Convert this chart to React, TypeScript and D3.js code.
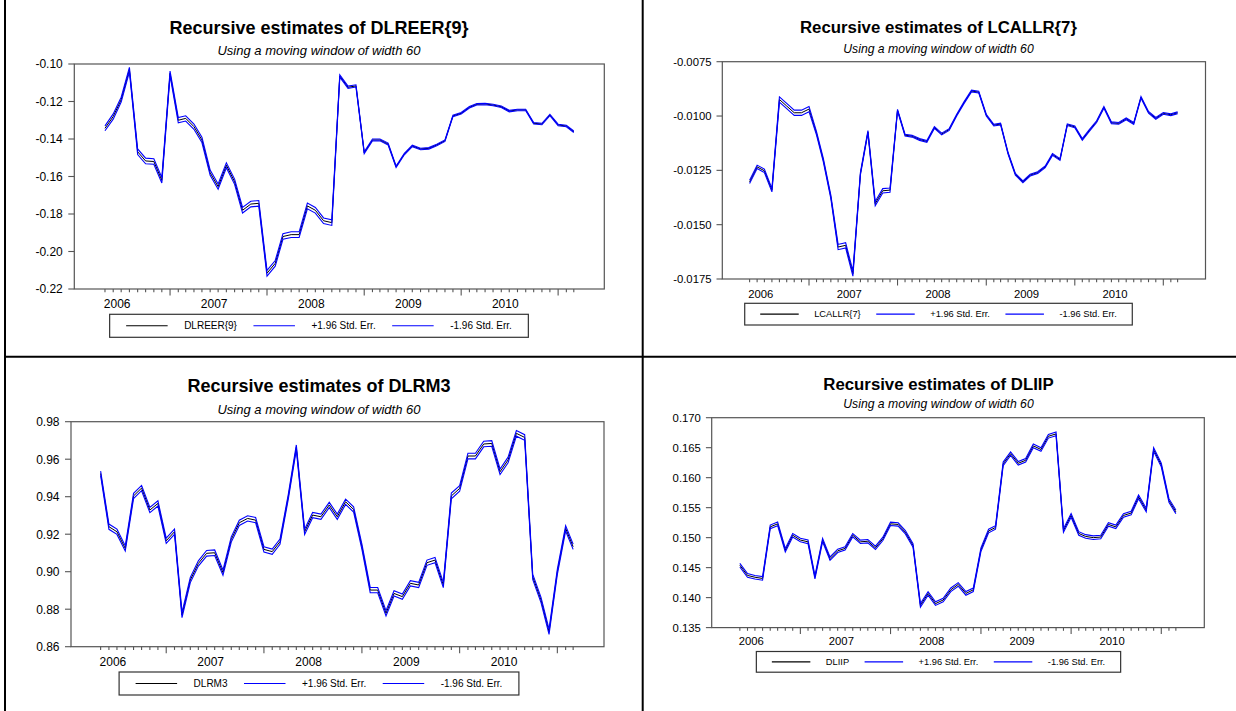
import React, { useEffect } from "react";
import * as d3 from "d3";

const FONT = '"Liberation Sans", Arial, Helvetica, sans-serif';

// Monthly sample May 2006 – Mar 2011; axis runs Jan 2006 – Jul 2011
const sampleMonths = d3.timeMonth.range(new Date(2006, 4, 1), new Date(2011, 3, 1));
const axisDomain: [Date, Date] = [new Date(2006, 0, 1), new Date(2011, 6, 1)];
const yearLabels = [2006, 2007, 2008, 2009, 2010];

const subtitleText = "Using a moving window of width 60";
const upperLabel = "+1.96 Std. Err.";
const lowerLabel = "-1.96 Std. Err.";

// Coefficient estimates and their 1.96*SE half-widths
const dlreer9 = [
  -0.1343, -0.128, -0.119, -0.103, -0.1468, -0.1517, -0.152, -0.162, -0.105, -0.13,
  -0.129, -0.1334, -0.1405, -0.158, -0.1654, -0.154, -0.1628, -0.178, -0.1747, -0.1743,
  -0.2116, -0.2063, -0.192, -0.191, -0.191, -0.1757, -0.178, -0.1836, -0.1846, -0.1064,
  -0.1124, -0.1117, -0.1473, -0.1405, -0.1405, -0.1427, -0.1548, -0.148, -0.1437, -0.1453,
  -0.145, -0.1432, -0.1409, -0.1277, -0.1263, -0.1231, -0.1215, -0.1213, -0.1219, -0.1228,
  -0.1251, -0.1245, -0.1245, -0.1316, -0.132, -0.1272, -0.1325, -0.1331, -0.1361,
];
const dlreer9Band = [
  0.0013, 0.0014, 0.0013, 0.0012, 0.0015, 0.0015, 0.0015, 0.0015, 0.0012, 0.0014,
  0.0014, 0.0014, 0.0014, 0.0014, 0.0014, 0.0013, 0.0014, 0.0015, 0.0015, 0.0015,
  0.0015, 0.0015, 0.0015, 0.0015, 0.0015, 0.0015, 0.0015, 0.0015, 0.0015, 0.0006,
  0.0006, 0.0006, 0.0005, 0.0005, 0.0005, 0.0005, 0.0004, 0.0004, 0.0004, 0.0004,
  0.0004, 0.0004, 0.0004, 0.0004, 0.0004, 0.0004, 0.0004, 0.0004, 0.0004, 0.0004,
  0.0004, 0.0004, 0.0004, 0.0004, 0.0004, 0.0004, 0.0004, 0.0004, 0.0004,
];
const dlreer9Ticks = [-0.22, -0.2, -0.18, -0.16, -0.14, -0.12, -0.1];

const lcallr7 = [
  -0.01303, -0.01234, -0.01252, -0.01341, -0.00924, -0.00954, -0.00985, -0.00985, -0.00968, -0.0108,
  -0.01203, -0.01372, -0.01603, -0.01595, -0.01725, -0.01265, -0.01073, -0.01403, -0.01344, -0.01341,
  -0.00973, -0.01088, -0.01093, -0.01108, -0.01117, -0.01053, -0.01083, -0.01062, -0.00996, -0.00939,
  -0.00885, -0.0089, -0.00996, -0.01042, -0.01037, -0.01172, -0.01268, -0.01303, -0.01272, -0.0126,
  -0.01234, -0.01177, -0.012, -0.0104, -0.0105, -0.01108, -0.01068, -0.01026, -0.0096, -0.01031,
  -0.01034, -0.01013, -0.01034, -0.00914, -0.00983, -0.01011, -0.00988, -0.00994, -0.00985,
];
const lcallr7Band = [
  0.00008, 0.00008, 0.00008, 0.00008, 0.00012, 0.00012, 0.00012, 0.00012, 0.00012, 0.00008,
  0.00008, 0.00008, 0.00012, 0.00012, 0.00012, 0.00006, 0.00006, 0.0001, 0.0001, 0.0001,
  0.00004, 0.00004, 0.00004, 0.00004, 0.00004, 0.00004, 0.00004, 0.00004, 0.00004, 0.00004,
  0.00004, 0.00004, 0.00004, 0.00004, 0.00004, 0.00004, 0.00004, 0.00004, 0.00004, 0.00004,
  0.00004, 0.00004, 0.00004, 0.00004, 0.00004, 0.00004, 0.00004, 0.00004, 0.00004, 0.00004,
  0.00004, 0.00004, 0.00004, 0.00004, 0.00004, 0.00004, 0.00004, 0.00004, 0.00004,
];
const lcallr7Ticks = [-0.0175, -0.015, -0.0125, -0.01, -0.0075];

const dlrm3 = [
  0.9524, 0.924, 0.9213, 0.9124, 0.9404, 0.9446, 0.9329, 0.9364, 0.9165, 0.9213,
  0.8769, 0.8956, 0.9044, 0.9098, 0.9101, 0.8995, 0.9172, 0.9261, 0.9284, 0.9275,
  0.9119, 0.9107, 0.916, 0.94, 0.9663, 0.9213, 0.9302, 0.9293, 0.9356, 0.9293,
  0.9373, 0.9332, 0.9133, 0.8902, 0.8902, 0.8778, 0.8884, 0.8867, 0.8938, 0.8929,
  0.9048, 0.9062, 0.8929, 0.9404, 0.9444, 0.9617, 0.9617, 0.9681, 0.9684, 0.9533,
  0.9596, 0.9738, 0.9716, 0.8973, 0.8849, 0.868, 0.9, 0.9231, 0.9133,
];
const dlrm3Band = [
  0.0012, 0.0014, 0.0014, 0.0014, 0.0014, 0.0014, 0.0014, 0.0014, 0.0014, 0.0014,
  0.0014, 0.0014, 0.0014, 0.0015, 0.0015, 0.0014, 0.0014, 0.0014, 0.0014, 0.0014,
  0.0014, 0.0014, 0.0014, 0.0013, 0.0013, 0.0014, 0.0014, 0.0014, 0.0014, 0.0014,
  0.0014, 0.0014, 0.0014, 0.0014, 0.0014, 0.0014, 0.0014, 0.0014, 0.0014, 0.0014,
  0.0014, 0.0014, 0.0014, 0.0015, 0.0015, 0.0015, 0.0015, 0.0015, 0.0015, 0.0015,
  0.0015, 0.0015, 0.0015, 0.0014, 0.0014, 0.0014, 0.0014, 0.0014, 0.0014,
];
const dlrm3Ticks = [0.86, 0.88, 0.9, 0.92, 0.94, 0.96, 0.98];

const dliip = [
  0.1454, 0.1437, 0.1434, 0.1432, 0.1518, 0.1523, 0.1479, 0.1504, 0.1496, 0.1493,
  0.1434, 0.1496, 0.1465, 0.1478, 0.1482, 0.1504, 0.1493, 0.1494, 0.1483, 0.1498,
  0.1523, 0.1522, 0.1509, 0.1487, 0.1387, 0.1407, 0.139, 0.1396, 0.1413, 0.1422,
  0.1407, 0.1413, 0.148, 0.1511, 0.1517, 0.1623, 0.164, 0.1624, 0.1629, 0.1653,
  0.1647, 0.1669, 0.1673, 0.1512, 0.1537, 0.1507, 0.1502, 0.15, 0.1501, 0.1522,
  0.1518, 0.1537, 0.1541, 0.1568, 0.1546, 0.1647, 0.1621, 0.1562, 0.1543,
];
const dliipBand = [
  0.0003, 0.0003, 0.0003, 0.0003, 0.0003, 0.0003, 0.0003, 0.0003, 0.0003, 0.0003,
  0.00028, 0.00028, 0.00028, 0.00028, 0.00028, 0.00028, 0.00028, 0.00028, 0.00028, 0.00028,
  0.00028, 0.00028, 0.00028, 0.00028, 0.0003, 0.0003, 0.0003, 0.0003, 0.0003, 0.0003,
  0.0003, 0.0003, 0.0003, 0.0003, 0.0003, 0.0003, 0.0003, 0.0003, 0.0003, 0.0003,
  0.0003, 0.0003, 0.0003, 0.0003, 0.0003, 0.0003, 0.0003, 0.0003, 0.0003, 0.0003,
  0.0003, 0.0003, 0.0003, 0.0003, 0.0003, 0.0003, 0.0003, 0.0003, 0.0003,
];
const dliipTicks = [0.135, 0.14, 0.145, 0.15, 0.155, 0.16, 0.165, 0.17];

const plainLocale = d3.formatLocale({
  decimal: ".",
  thousands: ",",
  grouping: [3],
  currency: ["", ""],
  minus: "-",
});

type Layout = {
  frame: [number, number, number, number];
  xRange: [number, number];
  cx: number;
  titleY: number;
  titleSize: number;
  subY: number;
  subSize: number;
  tickSize: number;
  tickLen: number;
  labelGap: number;
  xLabelY: number;
  legendTop: number;
  legendBottom: number;
  legendSize: number;
  legendPad: number;
  legendLine: number;
};

type PanelSpec = {
  name: string;
  values: number[];
  band: number[];
  ticks: number[];
  fmt: string;
  layout: Layout;
};

const leftBase = {
  titleSize: 18,
  subSize: 13,
  tickSize: 12,
  tickLen: 6,
  labelGap: 5.5,
  legendSize: 10,
  legendPad: 16.5,
  legendLine: 41.5,
  cx: 319,
};
const rightBase = {
  titleSize: 16.8,
  subSize: 12.2,
  tickSize: 11.3,
  tickLen: 5.8,
  labelGap: 5,
  legendSize: 9.3,
  legendPad: 15.5,
  legendLine: 38.5,
  cx: 938.5,
};

const panels: PanelSpec[] = [
  {
    name: "DLREER{9}",
    values: dlreer9,
    band: dlreer9Band,
    ticks: dlreer9Ticks,
    fmt: ".2f",
    layout: {
      ...leftBase,
      frame: [74.3, 604.3, 64, 289],
      xRange: [73.1, 606.2],
      titleY: 33.5,
      subY: 55,
      xLabelY: 308.3,
      legendTop: 314.3,
      legendBottom: 337.3,
    },
  },
  {
    name: "LCALLR{7}",
    values: lcallr7,
    band: lcallr7Band,
    ticks: lcallr7Ticks,
    fmt: ".4f",
    layout: {
      ...rightBase,
      frame: [722.3, 1205.5, 61.7, 279],
      xRange: [720.5, 1207.2],
      titleY: 33,
      subY: 53,
      xLabelY: 297.5,
      legendTop: 303.3,
      legendBottom: 325,
    },
  },
  {
    name: "DLRM3",
    values: dlrm3,
    band: dlrm3Band,
    ticks: dlrm3Ticks,
    fmt: ".2f",
    layout: {
      ...leftBase,
      frame: [71, 604, 421.7, 646.7],
      xRange: [68.5, 605.8],
      titleY: 391.5,
      subY: 413.5,
      xLabelY: 665.7,
      legendTop: 672,
      legendBottom: 695,
    },
  },
  {
    name: "DLIIP",
    values: dliip,
    band: dliipBand,
    ticks: dliipTicks,
    fmt: ".3f",
    layout: {
      ...rightBase,
      frame: [711.7, 1204.3, 417.7, 627.6],
      xRange: [710.2, 1206],
      titleY: 390,
      subY: 407.5,
      xLabelY: 645,
      legendTop: 651.5,
      legendBottom: 672.2,
    },
  },
];

let measureCtx: CanvasRenderingContext2D | null = null;
function textWidth(text: string, size: number): number {
  if (!measureCtx) measureCtx = document.createElement("canvas").getContext("2d");
  if (!measureCtx) return text.length * size * 0.55;
  measureCtx.font = `${size}px ${FONT}`;
  return measureCtx.measureText(text).width;
}

function Legend({ spec }: { spec: PanelSpec }) {
  const L = spec.layout;
  const items = [
    { label: spec.name, color: "#000000" },
    { label: upperLabel, color: "#0000ff" },
    { label: lowerLabel, color: "#0000ff" },
  ];
  const widths = items.map((it) => textWidth(it.label, L.legendSize));
  const gap = L.legendPad;
  const total = 2 * L.legendPad + 3 * L.legendLine + 3 * gap + 2 * gap + d3.sum(widths);
  const x0 = L.cx - total / 2;
  const midY = (L.legendTop + L.legendBottom) / 2;
  let cursor = x0 + L.legendPad;
  const placed = items.map((it, i) => {
    const lx = cursor;
    const tx = lx + L.legendLine + gap;
    cursor = tx + widths[i] + gap;
    return { ...it, lx, tx };
  });
  return (
    <g>
      <rect
        x={x0}
        y={L.legendTop}
        width={total}
        height={L.legendBottom - L.legendTop}
        fill="#ffffff"
        stroke="#333333"
        strokeWidth={1.2}
      />
      {placed.map((p) => (
        <g key={p.label}>
          <line x1={p.lx} x2={p.lx + L.legendLine} y1={midY} y2={midY} stroke={p.color} strokeWidth={1.1} />
          <text x={p.tx} y={midY + L.legendSize * 0.35} fontSize={L.legendSize} fontFamily={FONT} fill="#000">
            {p.label}
          </text>
        </g>
      ))}
    </g>
  );
}

function Panel({ spec }: { spec: PanelSpec }) {
  const L = spec.layout;
  const [fx0, fx1, fy0, fy1] = L.frame;
  const x = d3.scaleTime().domain(axisDomain).range(L.xRange);
  const y = d3
    .scaleLinear()
    .domain([spec.ticks[0], spec.ticks[spec.ticks.length - 1]])
    .range([fy1, fy0]);
  const fmt = plainLocale.format(spec.fmt);

  const path = d3
    .line<number>()
    .x((_, i) => x(sampleMonths[i]))
    .y((v) => y(v));
  const upper = spec.values.map((v, i) => v + spec.band[i]);
  const lower = spec.values.map((v, i) => v - spec.band[i]);

  return (
    <g>
      <text
        x={L.cx}
        y={L.titleY}
        textAnchor="middle"
        fontFamily={FONT}
        fontWeight="bold"
        fontSize={L.titleSize}
        fill="#000"
      >
        {`Recursive estimates of ${spec.name}`}
      </text>
      <text
        x={L.cx}
        y={L.subY}
        textAnchor="middle"
        fontFamily={FONT}
        fontStyle="italic"
        fontSize={L.subSize}
        fill="#000"
      >
        {subtitleText}
      </text>

      <rect x={fx0} y={fy0} width={fx1 - fx0} height={fy1 - fy0} fill="none" stroke="#555" strokeWidth={1.2} />

      {spec.ticks.map((t) => (
        <g key={t}>
          <line x1={fx0 - L.tickLen} x2={fx0} y1={y(t)} y2={y(t)} stroke="#555" strokeWidth={1.1} />
          <text
            x={fx0 - L.tickLen - L.labelGap}
            y={y(t) + L.tickSize * 0.36}
            textAnchor="end"
            fontFamily={FONT}
            fontSize={L.tickSize}
            fill="#000"
          >
            {fmt(t)}
          </text>
        </g>
      ))}

      {sampleMonths.map((m) => {
        const major = m.getMonth() === 0;
        return (
          <line
            key={+m}
            x1={x(m)}
            x2={x(m)}
            y1={fy1}
            y2={fy1 + (major ? 6.5 : 3.2)}
            stroke="#555"
            strokeWidth={1.1}
          />
        );
      })}
      {yearLabels.map((yr) => (
        <text
          key={yr}
          x={x(new Date(yr, 5, 16))}
          y={L.xLabelY}
          textAnchor="middle"
          fontFamily={FONT}
          fontSize={L.tickSize}
          fill="#000"
        >
          {yr}
        </text>
      ))}

      <path d={path(spec.values) || ""} fill="none" stroke="#000000" strokeWidth={1} />
      <path d={path(upper) || ""} fill="none" stroke="#0000ff" strokeWidth={1.1} />
      <path d={path(lower) || ""} fill="none" stroke="#0000ff" strokeWidth={1.1} />

      <Legend spec={spec} />
    </g>
  );
}

export default function App() {
  useEffect(() => {
    document.body.style.margin = "0";
    document.body.style.overflow = "hidden";
  }, []);
  return (
    <svg
      width={1236}
      height={711}
      viewBox="0 0 1236 711"
      style={{ position: "absolute", left: 0, top: 0, background: "#ffffff", display: "block" }}
    >
      <rect x={0} y={0} width={1236} height={711} fill="#ffffff" />
      {panels.map((p) => (
        <Panel key={p.name} spec={p} />
      ))}
      <line x1={5} x2={5} y1={0} y2={711} stroke="#000" strokeWidth={2} />
      <line x1={642.7} x2={642.7} y1={0} y2={711} stroke="#000" strokeWidth={2} />
      <line x1={4} x2={1236} y1={356.7} y2={356.7} stroke="#000" strokeWidth={2} />
    </svg>
  );
}
